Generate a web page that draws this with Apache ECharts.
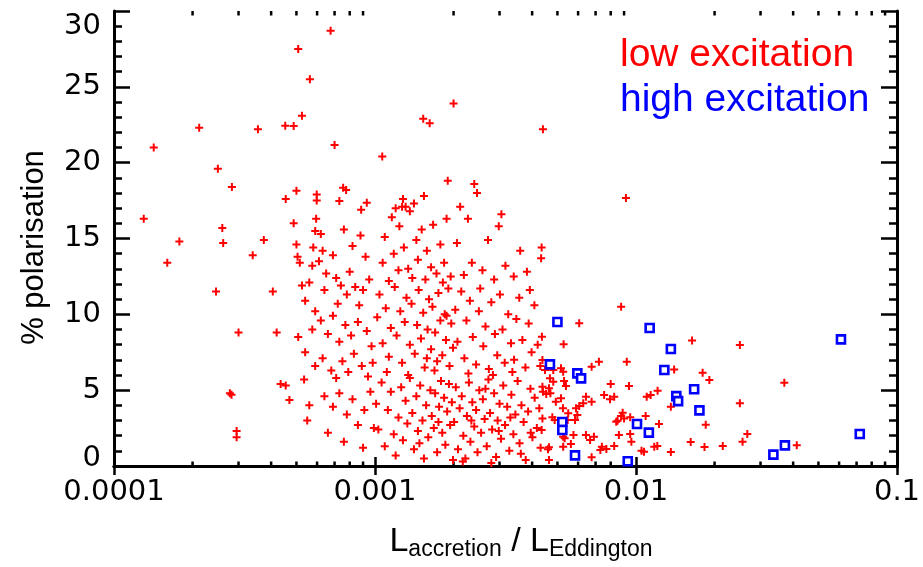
<!DOCTYPE html>
<html>
<head>
<meta charset="utf-8">
<script src="https://cdn.jsdelivr.net/npm/echarts@6/dist/echarts.min.js"></script>
<style>html,body{margin:0;padding:0;background:#fff;}#c{width:923px;height:567px;}</style>
</head>
<body>
<div id="c"></div>
<script>
const xTickLabels = ['0.0001', '0.001', '0.01', '0.1'];
const xMinorTicks = [0.0002,0.0003,0.0004,0.0005,0.0006,0.0007,0.0008,0.0009,
  0.002,0.003,0.004,0.005,0.006,0.007,0.008,0.009,
  0.02,0.03,0.04,0.05,0.06,0.07,0.08,0.09];
const X_MIN = 0.0001, X_MAX = 0.1, Y_MIN = 0, Y_MAX = 30;

// low-excitation sources, x < 0.001
const lowExcitationA = [
  [1.3e-4,16.3],[1.42e-4,21.0],[1.6e-4,13.4],[1.78e-4,14.8],[2.12e-4,22.3],[2.46e-4,11.5],[2.5e-4,19.6],
  [2.6e-4,15.7],[2.62e-4,14.7],[2.78e-4,4.8],[2.82e-4,4.7],[2.83e-4,18.4],[2.95e-4,2.3],[2.95e-4,1.9],
  [3.0e-4,8.8],[3.56e-4,22.2],[3.4e-4,13.9],[3.75e-4,14.9],[4.06e-4,11.5],[4.2e-4,8.8],[4.35e-4,5.4],
  [4.55e-4,5.3],[4.7e-4,4.35],[4.53e-4,22.43],[4.88e-4,22.41],[5.25e-4,23.1],[5.08e-4,27.5],[5.63e-4,25.5],
  [4.55e-4,17.6],[5.0e-4,18.15],[4.88e-4,16.0],[5.0e-4,14.6],[5.05e-4,13.8],[5.15e-4,13.4],[5.25e-4,11.9],
  [5.4e-4,10.9],[5.08e-4,8.5],[5.4e-4,7.5],[5.35e-4,5.7],[5.6e-4,4.0],[5.95e-4,16.3],[5.9e-4,15.5],
  [5.8e-4,14.4],[5.75e-4,13.2],[5.6e-4,12.1],[5.9e-4,10.2],[5.75e-4,9.0],[5.9e-4,6.6],[5.5e-4,3.0],
  [5.98e-4,17.9],[5.98e-4,17.5],[6.76e-4,28.7],[7.0e-4,21.16],[7.3e-4,17.47],[7.55e-4,18.35],[7.75e-4,18.2],
  [8.85e-4,16.9],[9.3e-4,17.36],
  [6.2e-4,15.3],[6.3e-4,14.2],[6.1e-4,13.5],[6.5e-4,12.7],[6.4e-4,11.6],[6.9e-4,13.9],[7.1e-4,12.4],
  [7.4e-4,11.9],[7.2e-4,10.7],[7.8e-4,11.3],[8.0e-4,12.8],[8.4e-4,11.8],[8.7e-4,10.6],[9.0e-4,11.6],
  [9.5e-4,12.3],[9.2e-4,13.8],[8.2e-4,14.5],[7.6e-4,15.6],[8.8e-4,15.2],
  [6.2e-4,9.6],[6.6e-4,8.7],[6.9e-4,9.9],[7.3e-4,8.2],[7.7e-4,9.3],[8.1e-4,8.6],[8.6e-4,9.5],[9.3e-4,8.9],
  [9.7e-4,7.9],[6.3e-4,7.1],[6.8e-4,6.3],[7.1e-4,5.8],[7.5e-4,6.9],[7.9e-4,6.2],[8.3e-4,7.4],[8.9e-4,6.6],
  [9.4e-4,5.9],[9.8e-4,6.8],[6.4e-4,4.6],[6.9e-4,3.9],[7.3e-4,4.8],[7.8e-4,3.4],[8.2e-4,4.4],[8.6e-4,2.7],
  [9.1e-4,3.7],[9.6e-4,4.9],[6.6e-4,2.2],[7.6e-4,1.6],[9.0e-4,1.2],[9.9e-4,2.5]
];
// low-excitation sources, 0.001 <= x < 0.002
const lowExcitationB = [
  [1.066e-3,20.4],[1.28e-3,17.6],[1.27e-3,17.1],[1.31e-3,17.1],[2.0e-3,23.9],[1.53e-3,22.9],[1.62e-3,22.6],
  [1.07e-3,13.4],[1.09e-3,15.1],[1.13e-3,12.2],[1.16e-3,16.4],[1.18e-3,14.0],[1.23e-3,12.9],[1.24e-3,15.8],
  [1.29e-3,14.4],[1.34e-3,13.0],[1.36e-3,16.8],[1.39e-3,12.4],[1.44e-3,14.9],[1.46e-3,13.6],[1.51e-3,15.6],
  [1.56e-3,12.3],[1.58e-3,14.2],[1.64e-3,13.1],[1.67e-3,15.9],[1.72e-3,12.7],[1.78e-3,14.6],[1.84e-3,13.4],
  [1.88e-3,16.3],[1.9e-3,18.8],[1.95e-3,12.5],[1.41e-3,17.3],[1.2e-3,17.0],[1.54e-3,17.8],[1.82e-3,12.1],
  [1.02e-3,9.8],[1.04e-3,11.3],[1.07e-3,8.1],[1.1e-3,10.4],[1.13e-3,7.2],[1.15e-3,9.1],[1.19e-3,11.8],
  [1.21e-3,8.6],[1.25e-3,10.2],[1.27e-3,6.8],[1.3e-3,9.5],[1.32e-3,11.1],[1.36e-3,8.0],[1.38e-3,10.7],
  [1.42e-3,7.4],[1.45e-3,9.3],[1.47e-3,11.6],[1.5e-3,8.4],[1.53e-3,10.1],[1.55e-3,6.5],[1.59e-3,9.0],
  [1.61e-3,11.0],[1.64e-3,7.7],[1.66e-3,10.5],[1.7e-3,8.8],[1.73e-3,6.9],[1.75e-3,11.4],[1.78e-3,9.6],
  [1.81e-3,7.3],[1.85e-3,10.0],[1.87e-3,8.3],[1.91e-3,11.7],[1.93e-3,6.6],[1.96e-3,9.4],[1.99e-3,7.8],
  [1.11e-3,6.2],[1.34e-3,6.0],[1.58e-3,7.1],[1.69e-3,6.3],[1.88e-3,9.9],
  [1.01e-3,4.1],[1.03e-3,2.4],[1.06e-3,5.5],[1.09e-3,1.3],[1.12e-3,3.7],[1.15e-3,4.9],[1.18e-3,2.1],
  [1.2e-3,0.7],[1.23e-3,3.2],[1.26e-3,5.2],[1.28e-3,1.7],[1.31e-3,4.3],[1.33e-3,2.8],[1.36e-3,5.8],
  [1.39e-3,3.5],[1.41e-3,1.1],[1.44e-3,4.6],[1.46e-3,2.3],[1.49e-3,5.3],[1.52e-3,3.0],[1.54e-3,0.5],
  [1.57e-3,4.0],[1.6e-3,1.9],[1.63e-3,5.0],[1.65e-3,3.3],[1.68e-3,2.5],[1.7e-3,4.8],[1.73e-3,0.9],
  [1.76e-3,3.9],[1.79e-3,5.6],[1.81e-3,2.2],[1.84e-3,4.5],[1.86e-3,1.4],[1.89e-3,3.6],[1.92e-3,5.4],
  [1.94e-3,2.7],[1.97e-3,4.2],[1.99e-3,0.4],[1.48e-3,1.5],[1.75e-3,2.9]
];
// low-excitation sources, 0.002 <= x < 0.0045
const lowExcitationC = [
  [2.06e-3,14.7],[2.19e-3,12.6],[2.27e-3,16.3],[2.35e-3,13.4],[2.4e-3,18.6],[2.46e-3,18.0],[2.58e-3,12.9],
  [2.71e-3,14.9],[2.86e-3,12.3],[2.98e-3,15.8],[3.16e-3,13.2],[3.4e-3,12.5],[3.6e-3,14.2],[3.82e-3,12.8],
  [4.35e-3,14.4],[4.33e-3,13.7],[2.12e-3,17.1],[3.05e-3,16.6],[4.4e-3,22.2],
  [2.03e-3,10.3],[2.07e-3,8.2],[2.14e-3,11.5],[2.2e-3,7.1],[2.24e-3,9.6],[2.31e-3,10.9],[2.37e-3,8.5],
  [2.44e-3,6.7],[2.5e-3,10.2],[2.53e-3,11.7],[2.6e-3,7.9],[2.65e-3,9.2],[2.73e-3,6.4],[2.79e-3,10.8],
  [2.88e-3,8.7],[2.94e-3,7.3],[3.01e-3,11.3],[3.08e-3,9.0],[3.14e-3,6.8],[3.24e-3,10.0],[3.32e-3,8.1],
  [3.41e-3,7.0],[3.48e-3,9.7],[3.57e-3,11.1],[3.67e-3,8.3],[3.77e-3,6.5],[3.88e-3,9.4],[3.98e-3,7.5],
  [4.08e-3,10.6],[4.2e-3,8.0],[4.3e-3,6.6],[2.28e-3,6.1],[2.83e-3,6.0],[3.36e-3,6.2],[3.92e-3,11.6],
  [2.01e-3,2.9],[2.04e-3,5.2],[2.08e-3,1.1],[2.11e-3,3.8],[2.15e-3,4.6],[2.18e-3,2.0],[2.22e-3,0.5],
  [2.25e-3,3.3],[2.29e-3,5.5],[2.32e-3,1.6],[2.36e-3,4.2],[2.4e-3,2.6],[2.44e-3,3.7],[2.47e-3,0.9],
  [2.51e-3,5.0],[2.55e-3,2.2],[2.59e-3,4.4],[2.63e-3,3.1],[2.68e-3,1.3],[2.72e-3,5.7],[2.76e-3,3.5],
  [2.81e-3,2.4],[2.86e-3,4.8],[2.91e-3,0.6],[2.95e-3,3.0],[3.0e-3,4.1],[3.04e-3,1.8],[3.1e-3,5.3],
  [3.15e-3,2.7],[3.21e-3,3.9],[3.27e-3,1.0],[3.33e-3,4.7],[3.39e-3,2.1],[3.45e-3,3.4],[3.52e-3,5.6],
  [3.58e-3,1.5],[3.64e-3,4.0],[3.71e-3,2.9],[3.78e-3,0.4],[3.86e-3,3.6],[3.94e-3,5.1],[4.01e-3,1.9],
  [4.09e-3,4.5],[4.17e-3,2.5],[4.26e-3,3.8],[4.31e-3,1.2],[2.34e-3,3.0],[2.65e-3,5.1],[2.98e-3,2.3],
  [3.3e-3,3.2],[3.62e-3,0.8],[3.95e-3,2.2],[2.17e-3,0.3],[2.79e-3,0.2]
];
// low-excitation sources, x >= 0.0043
const lowExcitationD = [
  [9.15e-3,17.67],
  [8.77e-3,10.5],[6.06e-3,9.41],[4.36e-3,8.52],[5.28e-3,8.02],[1.64e-2,8.28],[2.5e-2,7.98],[4.38e-3,6.99],
  [7.21e-3,6.88],[6.76e-3,6.55],[9.22e-3,6.88],[4.48e-3,6.33],[4.82e-3,6.33],[5.16e-3,6.44],[5.26e-3,6.22],
  [1.40e-2,6.37],[1.80e-2,6.15],[1.91e-2,5.67],[3.70e-2,5.49],[4.68e-3,5.78],[4.82e-3,5.56],[5.3e-3,5.60],
  [5.39e-3,5.27],[4.38e-3,5.23],[4.64e-3,5.12],[4.4e-3,4.90],[4.53e-3,4.75],[4.7e-3,4.79],[8.0e-3,5.41],
  [9.4e-3,5.27],[1.21e-2,4.96],[1.099e-2,4.57],[1.138e-2,4.68],[2.5e-2,4.13],[7.55e-3,4.68],[7.95e-3,4.40],
  [8.25e-3,4.57],[6.43e-3,4.57],[6.76e-3,4.24],[6.28e-3,4.13],[6.06e-3,3.96],[4.93e-3,4.24],[5.16e-3,4.46],
  [5.25e-3,3.80],[1.36e-2,3.91],[5.89e-3,3.80],[5.96e-3,3.36],[5.5e-3,3.47],[5.84e-3,3.03],[5.47e-3,3.03],
  [8.89e-3,3.51],[8.77e-3,3.30],[9.0e-3,3.14],[9.5e-3,3.21],[8.5e-3,2.99],[8.4e-3,2.92],[1.089e-2,3.30],
  [1.225e-2,2.77],[1.85e-2,2.72],[2.67e-2,2.11],[2.56e-2,1.60],[4.13e-2,1.36],[2.15e-2,1.32],[1.83e-2,1.25],
  [1.62e-2,1.58],[1.36e-2,0.92],[1.073e-2,0.94],[1.05e-2,1.01],[1.207e-2,1.32],[1.175e-2,1.27],[9.5e-3,2.11],
  [9.6e-3,1.60],[8.6e-3,2.04],[8.25e-3,1.32],[7.7e-3,1.12],[7.4e-3,1.27],[7.3e-3,1.05],[6.76e-3,0.57],
  [6.9e-3,1.93],[6.43e-3,2.04],[6.67e-3,1.71],[5.76e-3,2.04],[5.63e-3,1.45],[5.26e-3,1.27],[4.64e-3,1.23],
  [4.6e-3,1.10],[4.64e-3,0.40],[4.35e-3,2.37],[4.38e-3,3.14],[5.26e-3,1.93],[5.33e-3,1.83],[4.88e-3,3.03],
  [4.78e-3,3.21]
];
const highExcitation = [
  [5.0e-3,9.49],[1.128e-2,9.10],[1.36e-2,7.71],[4.68e-3,6.70],[5.96e-3,6.11],[6.16e-3,5.78],[1.284e-2,6.33],
  [1.67e-2,5.06],[1.427e-2,4.61],[1.45e-2,4.28],[1.75e-2,3.67],[6.1e-2,8.35],[5.22e-3,2.90],[5.22e-3,2.37],
  [1.009e-2,2.77],[1.12e-2,2.20],[5.84e-3,0.70],[9.3e-3,0.31],[3.36e-2,0.75],[3.72e-2,1.36],[7.2e-2,2.11]
];
const lowExcitation = lowExcitationA.concat(lowExcitationB, lowExcitationC, lowExcitationD);

const chart = echarts.init(document.getElementById('c'), null, {renderer: 'canvas'});
const tickFont = 'DejaVu Sans';
const nameFont = 'Liberation Sans';
const plusPath = 'path://M3,0H5V3H8V5H5V8H3V5H0V3H3Z';

const axisLineStyle = {color: '#000', width: 3};
const tickStyle = {color: '#000', width: 2.5};

const option = {
  backgroundColor: '#fff',
  animation: false,
  grid: {left: 114, right: 26, top: 11, bottom: 101, containLabel: false, outerBoundsMode: 'none'},
  legend: {
    orient: 'vertical', left: 615, top: 33, padding: 0, itemGap: 0,
    itemWidth: 0, itemHeight: 0, selectedMode: false,
    data: [
      {name: 'low excitation', icon: 'none', textStyle: {color: '#ff0000'}},
      {name: 'high excitation', icon: 'none', textStyle: {color: '#0000ff'}}
    ],
    textStyle: {fontFamily: nameFont, fontSize: 39, lineHeight: 45}
  },
  xAxis: [
    {
      type: 'log', logBase: 10, min: X_MIN, max: X_MAX, position: 'bottom',
      axisLine: {show: true, lineStyle: axisLineStyle},
      axisTick: {show: true, inside: true, length: 9, lineStyle: tickStyle},
      splitLine: {show: false},
      axisLabel: {
        color: '#000', fontFamily: tickFont, fontSize: 29, margin: 12,
        formatter: function (v) { return xTickLabels[Math.round(Math.log10(v) + 4)]; }
      },
      name: '{L|L}{s|accretion}{L| / L}{s|Eddington}',
      nameLocation: 'middle', nameGap: 56,
      nameTextStyle: {
        color: '#000', fontFamily: nameFont, padding: [0, 0, 0, 31],
        rich: {
          L: {fontFamily: nameFont, fontSize: 34, lineHeight: 40, color: '#000'},
          s: {fontFamily: nameFont, fontSize: 23, lineHeight: 24, color: '#000', padding: [16, 0, 0, 0]}
        }
      }
    },
    {
      type: 'log', logBase: 10, min: X_MIN, max: X_MAX, position: 'top',
      axisLine: {show: true, lineStyle: axisLineStyle},
      axisTick: {show: true, inside: true, length: 9, lineStyle: tickStyle},
      axisLabel: {show: false}, splitLine: {show: false}
    }
  ],
  yAxis: [
    {
      type: 'value', min: Y_MIN, max: Y_MAX, interval: 5, position: 'left',
      axisLine: {show: true, lineStyle: axisLineStyle},
      axisTick: {show: true, inside: true, length: 16, lineStyle: tickStyle},
      minorTick: {show: true, splitNumber: 5, length: 8, lineStyle: tickStyle},
      splitLine: {show: false},
      axisLabel: {
        color: '#000', fontFamily: tickFont, fontSize: 29, margin: 13,
        formatter: function (v) {
          if (v === Y_MIN) return '{b|' + v + '}';
          if (v === Y_MAX) return '{t|' + v + '}';
          return String(v);
        },
        rich: {
          b: {fontFamily: tickFont, fontSize: 29, color: '#000', padding: [0, 0, 16, 0]},
          t: {fontFamily: tickFont, fontSize: 29, color: '#000', padding: [30, 0, 0, 0]}
        }
      },
      name: '% polarisation', nameLocation: 'middle', nameGap: 64,
      nameTextStyle: {color: '#000', fontFamily: nameFont, fontSize: 31, padding: [0, 18, 0, 0]}
    },
    {
      type: 'value', min: Y_MIN, max: Y_MAX, interval: 5, position: 'right',
      axisLine: {show: true, lineStyle: axisLineStyle},
      axisTick: {show: true, inside: true, length: 16, lineStyle: tickStyle},
      minorTick: {show: true, splitNumber: 5, length: 8, lineStyle: tickStyle},
      splitLine: {show: false}, axisLabel: {show: false}
    }
  ],
  series: [
    {
      type: 'custom', silent: true, clip: false, z: 1,
      data: xMinorTicks.map(function (v) { return [v, Y_MIN]; }),
      renderItem: function (params, api) {
        const v = api.value(0);
        const b = api.coord([v, Y_MIN]);
        const t = api.coord([v, Y_MAX]);
        const st = {stroke: '#000', lineWidth: 2.5};
        return {type: 'group', children: [
          {type: 'line', shape: {x1: b[0], y1: b[1], x2: b[0], y2: b[1] - 4.5}, style: st},
          {type: 'line', shape: {x1: t[0], y1: t[1], x2: t[0], y2: t[1] + 4.5}, style: st}
        ]};
      }
    },
    {
      name: 'low excitation', type: 'scatter', data: lowExcitation, z: 2,
      symbol: plusPath, symbolSize: 8, itemStyle: {color: '#ff0000', opacity: 1}
    },
    {
      name: 'high excitation', type: 'scatter', data: highExcitation, z: 3,
      symbol: 'rect', symbolSize: 8,
      itemStyle: {color: '#ffffff', borderColor: '#0000ff', borderWidth: 2.6, opacity: 1}
    }
  ]
};
chart.setOption(option);
</script>
</body>
</html>
